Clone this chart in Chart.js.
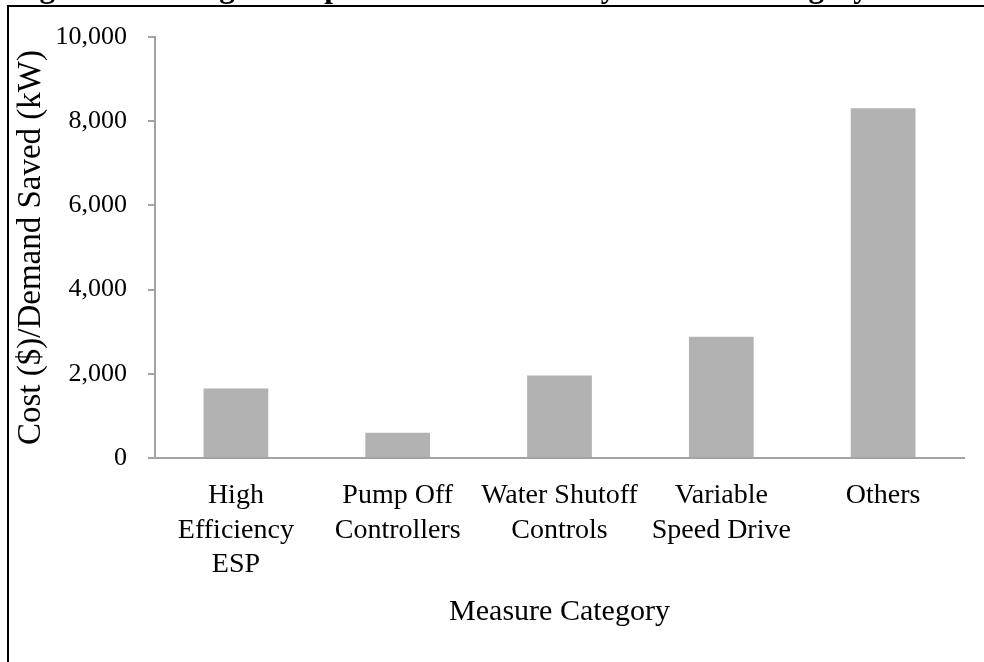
<!DOCTYPE html>
<html>
<head>
<meta charset="utf-8">
<script src="https://cdn.jsdelivr.net/npm/chart.js@4/dist/chart.umd.min.js"></script>
<style>
  html, body { margin: 0; padding: 0; background: #ffffff; }
  #wrap { position: relative; width: 984px; height: 662px; }
</style>
</head>
<body>
<div id="wrap"><canvas id="c" width="984" height="662"></canvas></div>
<script>
// ---- data ----
const categories = [
  ["High", "Efficiency", "ESP"],
  ["Pump Off", "Controllers"],
  ["Water Shutoff", "Controls"],
  ["Variable", "Speed Drive"],
  "Others"
];
const costPerKW = [1650, 600, 1960, 2880, 8310];
const yTicks = [0, 2000, 4000, 6000, 8000, 10000];
const titleText = "Figure 1: Average Cost per Demand Saved by Measure Category";
const yTitle = "Cost ($)/Demand Saved (kW)";
const xTitle = "Measure Category";

const SERIF = '"Liberation Serif", "Times New Roman", serif';
const AXIS_GRAY = '#a3a3a3';

const framePlugin = {
  id: 'frame',
  afterDraw(chart) {
    const ctx = chart.ctx;
    ctx.save();
    // clipped heading (only its lower edge is visible above the frame)
    ctx.fillStyle = '#000';
    ctx.font = 'bold 31px ' + SERIF;
    ctx.textAlign = 'left';
    ctx.textBaseline = 'alphabetic';
    ctx.fillText(titleText, 12, -3);
    // frame lines (top and left)
    ctx.fillRect(7, 5, 984 - 7, 2);
    ctx.fillRect(7, 5, 2, 662 - 5);
    ctx.restore();
  }
};

new Chart(document.getElementById('c'), {
  type: 'bar',
  data: {
    labels: categories,
    datasets: [{
      data: costPerKW,
      backgroundColor: '#b2b2b2',
      borderWidth: 0,
      barPercentage: 0.4,
      categoryPercentage: 1.0
    }]
  },
  options: {
    responsive: false,
    animation: false,
    devicePixelRatio: 1,
    layout: { padding: { top: 37, right: 20, left: 0, bottom: 0 } },
    plugins: {
      legend: { display: false },
      tooltip: { enabled: false },
      title: { display: false }
    },
    scales: {
      x: {
        grid: { display: false, drawTicks: false },
        border: { display: true, color: AXIS_GRAY, width: 2 },
        ticks: {
          color: '#000',
          font: { family: SERIF, size: 28, lineHeight: 1.22 },
          padding: 21,
          maxRotation: 0,
          autoSkip: false
        },
        title: {
          display: true,
          text: xTitle,
          color: '#000',
          font: { family: SERIF, size: 30, lineHeight: 1.2 },
          padding: { top: 4, bottom: 32 }
        },
        afterFit(s) { s.height = 204; }
      },
      y: {
        min: 0,
        max: 10000,
        afterBuildTicks(s) { s.ticks = yTicks.map(v => ({ value: v })); },
        grid: { drawOnChartArea: false, drawTicks: true, tickLength: 7, color: AXIS_GRAY, lineWidth: 2 },
        border: { display: true, color: AXIS_GRAY, width: 2 },
        ticks: {
          color: '#000',
          font: { family: SERIF, size: 26 },
          padding: 21,
          callback: v => Number(v).toLocaleString('en-US')
        },
        title: {
          display: true,
          text: yTitle,
          color: '#000',
          font: { family: SERIF, size: 33, lineHeight: 1.2 },
          padding: { top: 12, bottom: 0 }
        },
        afterFit(s) { s.width = 155; }
      }
    }
  },
  plugins: [framePlugin]
});
</script>
</body>
</html>
